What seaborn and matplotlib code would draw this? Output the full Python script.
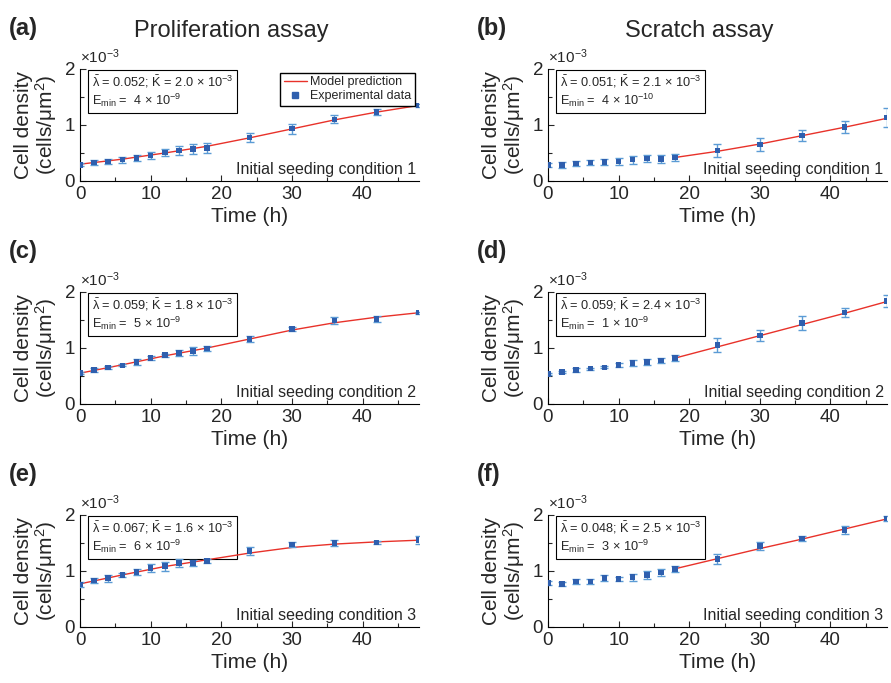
import matplotlib
matplotlib.use('Agg')
import matplotlib.pyplot as plt
import seaborn as sns
from matplotlib.lines import Line2D
from matplotlib.ticker import MultipleLocator

sns.set_style('ticks', {'xtick.direction': 'in', 'ytick.direction': 'in',
                        'axes.edgecolor': 'black'})
plt.rcParams['font.family'] = ['Liberation Sans', 'DejaVu Sans']
plt.rcParams['mathtext.fontset'] = 'custom'
plt.rcParams['mathtext.rm'] = 'Liberation Sans'
plt.rcParams['mathtext.it'] = 'Liberation Sans:italic'
plt.rcParams['mathtext.bf'] = 'Liberation Sans:bold'

# experiment times (h); densities are in units of 1e-3 cells/um^2
time = [0, 2, 4, 6, 8, 10, 12, 14, 16, 18, 24, 30, 36, 42, 48]
model_time_prolif = [0, 6, 12, 18, 24, 30, 36, 42, 48]
model_time_scratch = [18, 24, 30, 36, 42, 48]

# (a) proliferation, condition 1
prolif1_mean = [0.29, 0.33, 0.35, 0.38, 0.41, 0.455, 0.51, 0.545, 0.575, 0.59, 0.78, 0.935, 1.10, 1.23, 1.35]
prolif1_err = [0.03, 0.05, 0.04, 0.05, 0.05, 0.06, 0.07, 0.08, 0.09, 0.09, 0.08, 0.09, 0.07, 0.05, 0.03]
prolif1_model = [0.30, 0.39, 0.50, 0.62, 0.77, 0.93, 1.09, 1.23, 1.35]

# (b) scratch, condition 1
scratch1_mean = [0.29, 0.29, 0.31, 0.33, 0.335, 0.35, 0.38, 0.40, 0.39, 0.42, 0.545, 0.65, 0.815, 0.965, 1.13]
scratch1_err = [0.04, 0.05, 0.05, 0.05, 0.05, 0.06, 0.07, 0.06, 0.07, 0.07, 0.12, 0.11, 0.10, 0.11, 0.17]
scratch1_model = [0.42, 0.53, 0.66, 0.81, 0.96, 1.12]

# (c) proliferation, condition 2
prolif2_mean = [0.55, 0.61, 0.65, 0.69, 0.75, 0.825, 0.87, 0.91, 0.945, 0.99, 1.16, 1.34, 1.49, 1.52, 1.63]
prolif2_err = [0.02, 0.04, 0.03, 0.02, 0.05, 0.04, 0.03, 0.05, 0.07, 0.05, 0.06, 0.03, 0.07, 0.06, 0.02]
prolif2_model = [0.55, 0.70, 0.86, 1.00, 1.16, 1.32, 1.45, 1.55, 1.63]

# (d) scratch, condition 2
scratch2_mean = [0.54, 0.57, 0.61, 0.63, 0.655, 0.70, 0.735, 0.75, 0.78, 0.82, 1.05, 1.22, 1.45, 1.63, 1.84]
scratch2_err = [0.02, 0.02, 0.03, 0.02, 0.015, 0.04, 0.05, 0.05, 0.04, 0.06, 0.13, 0.10, 0.12, 0.08, 0.11]
scratch2_model = [0.82, 1.02, 1.22, 1.42, 1.62, 1.83]

# (e) proliferation, condition 3
prolif3_mean = [0.76, 0.83, 0.87, 0.93, 0.98, 1.055, 1.085, 1.14, 1.145, 1.18, 1.36, 1.47, 1.50, 1.51, 1.55]
prolif3_err = [0.04, 0.05, 0.06, 0.03, 0.06, 0.07, 0.08, 0.07, 0.05, 0.03, 0.07, 0.05, 0.05, 0.03, 0.07]
prolif3_model = [0.77, 0.93, 1.08, 1.20, 1.32, 1.42, 1.48, 1.52, 1.55]

# (f) scratch, condition 3
scratch3_mean = [0.79, 0.77, 0.81, 0.81, 0.87, 0.855, 0.89, 0.93, 0.97, 1.04, 1.21, 1.445, 1.58, 1.735, 1.935]
scratch3_err = [0.04, 0.03, 0.04, 0.04, 0.05, 0.04, 0.06, 0.07, 0.06, 0.05, 0.09, 0.07, 0.04, 0.07, 0.04]
scratch3_model = [1.04, 1.22, 1.40, 1.57, 1.75, 1.93]

panel_labels = ['(a)', '(b)', '(c)', '(d)', '(e)', '(f)']
lambdas = ['0.052', '0.051', '0.059', '0.059', '0.067', '0.048']
capacities = ['2.0', '2.1', '1.8', '2.4', '1.6', '2.5']
emins = ['4 × 10$^{-9}$', '4 × 10$^{-10}$', '5 × 10$^{-9}$', '1 × 10$^{-9}$', '6 × 10$^{-9}$', '3 × 10$^{-9}$']
conditions = ['Initial seeding condition 1', 'Initial seeding condition 1',
              'Initial seeding condition 2', 'Initial seeding condition 2',
              'Initial seeding condition 3', 'Initial seeding condition 3']

means = [prolif1_mean, scratch1_mean, prolif2_mean, scratch2_mean, prolif3_mean, scratch3_mean]
errs = [prolif1_err, scratch1_err, prolif2_err, scratch2_err, prolif3_err, scratch3_err]
models = [prolif1_model, scratch1_model, prolif2_model, scratch2_model, prolif3_model, scratch3_model]
model_times = [model_time_prolif, model_time_scratch] * 3

red = '#e8322a'
blue_dark = '#2f5fae'
blue_light = '#5b9bd5'

fig = plt.figure(figsize=(8.91, 6.83), dpi=100)

lefts = [0.0898, 0.615]
bottoms = [0.735, 0.4085, 0.082]
w, h = 0.3805, 0.164

for i in range(6):
    row, col = i // 2, i % 2
    ax = fig.add_axes([lefts[col], bottoms[row], w, h])

    sns.lineplot(x=model_times[i], y=models[i], color=red, lw=1.0, ax=ax, zorder=2)
    ax.errorbar(time, means[i], yerr=errs[i], fmt='none', ecolor=blue_light,
                elinewidth=1.0, capsize=3, capthick=1.0, zorder=3)
    sns.scatterplot(x=time, y=means[i], marker='s', color=blue_dark, s=16,
                    edgecolor='none', ax=ax, zorder=4)

    ax.set_xlim(0, 48)
    ax.set_ylim(0, 2)
    ax.xaxis.set_major_locator(MultipleLocator(10))
    ax.xaxis.set_minor_locator(MultipleLocator(5))
    ax.yaxis.set_major_locator(MultipleLocator(1))
    ax.yaxis.set_minor_locator(MultipleLocator(0.5))
    ax.tick_params(which='both', direction='in', labelsize=13.5, width=0.8)
    ax.tick_params(which='major', length=4)
    ax.tick_params(which='minor', length=3)
    sns.despine(ax=ax)
    for s in ['left', 'bottom']:
        ax.spines[s].set_linewidth(0.8)

    ax.set_xlabel('Time (h)', fontsize=15, labelpad=3)
    ax.set_ylabel('Cell density\n(cells/μm$^2$)', fontsize=15, labelpad=4,
                  linespacing=1.0)

    ax.text(0.0, 1.03, '×10$^{-3}$', transform=ax.transAxes, fontsize=11,
            ha='left', va='bottom')

    box_text = ('$\\bar{\\mathrm{\\lambda}}$ = ' + lambdas[i] + '; $\\bar{\\mathrm{K}}$ = '
                + capacities[i] + ' × 10$^{-3}$\nE$_{\\mathrm{min}}$ =  ' + emins[i])
    ax.text(0.035, 0.96, box_text, transform=ax.transAxes, fontsize=9.2,
            ha='left', va='top', linespacing=1.15, zorder=1,
            bbox=dict(boxstyle='square,pad=0.3', fc='white', ec='black', lw=0.8))

    ax.text(0.99, 0.04, conditions[i], transform=ax.transAxes, fontsize=11.5,
            ha='right', va='bottom')

    fig.text(lefts[col] - 0.08, bottoms[row] + h + 0.06, panel_labels[i],
             fontsize=17, fontweight='bold', ha='left', va='center')

    if i == 0:
        handles = [Line2D([], [], color=red, lw=1.0),
                   Line2D([], [], color=blue_dark, marker='s', ls='none', markersize=4)]
        ax.legend(handles, ['Model prediction', 'Experimental data'],
                  loc='upper right', fontsize=9, frameon=True, fancybox=False,
                  edgecolor='black', framealpha=1, borderpad=0.3,
                  handlelength=1.8, handletextpad=0.3, labelspacing=0.15,
                  borderaxespad=0.3)

fig.text(lefts[0] + w / 2 - 0.02, 0.955, 'Proliferation assay', fontsize=17,
         ha='center', va='center')
fig.text(lefts[1] + w / 2 - 0.02, 0.955, 'Scratch assay', fontsize=17,
         ha='center', va='center')

fig.savefig('out.png', dpi=100)
